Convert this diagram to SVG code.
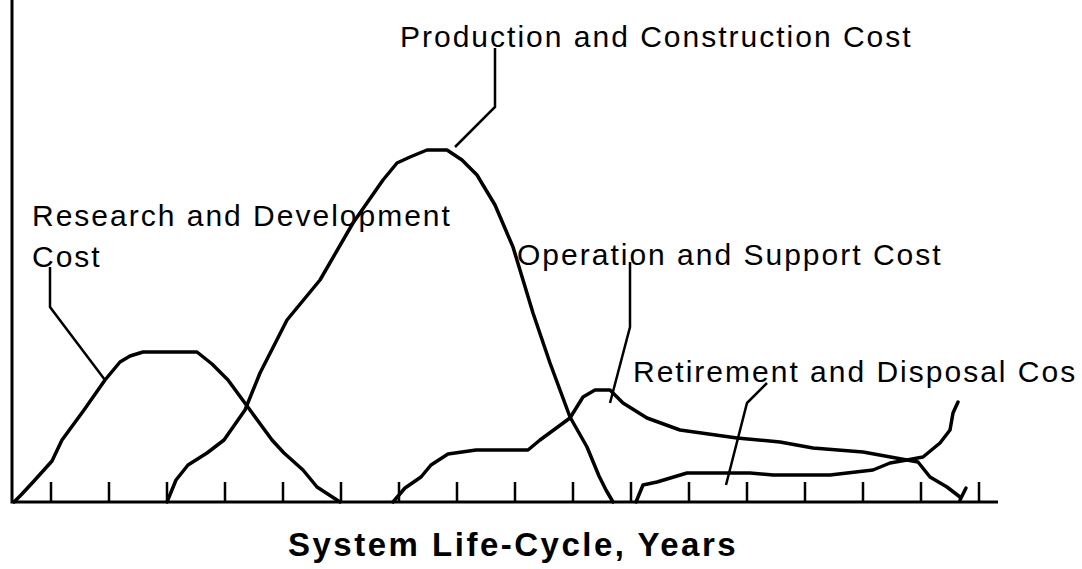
<svg xmlns="http://www.w3.org/2000/svg" width="1082" height="569" viewBox="0 0 1082 569">
<style>
.ax{stroke:#000;stroke-width:3;fill:none}
.tk{stroke:#000;stroke-width:2.5}
.cv{stroke:#000;stroke-width:3.5;fill:none;stroke-linejoin:round;stroke-linecap:round}
.ld{stroke:#000;stroke-width:2.5;fill:none;stroke-linejoin:miter}
.lb{font-family:"Liberation Sans",Arial,sans-serif;font-size:30px;letter-spacing:2px;fill:#000}
.tt{font-family:"Liberation Sans",Arial,sans-serif;font-size:33px;font-weight:bold;letter-spacing:2.5px;fill:#000}
</style>
<rect width="1082" height="569" fill="#fff"/>
<g id="axes">
<path class="ax" d="M12 0 V502 H998"/>
<g class="tk">
<line x1="51" y1="482" x2="51" y2="502"/><line x1="109" y1="482" x2="109" y2="502"/><line x1="167" y1="482" x2="167" y2="502"/><line x1="225" y1="482" x2="225" y2="502"/><line x1="283" y1="482" x2="283" y2="502"/><line x1="341" y1="482" x2="341" y2="502"/><line x1="399" y1="482" x2="399" y2="502"/><line x1="457" y1="482" x2="457" y2="502"/><line x1="515" y1="482" x2="515" y2="502"/><line x1="573" y1="482" x2="573" y2="502"/><line x1="631" y1="482" x2="631" y2="502"/><line x1="689" y1="482" x2="689" y2="502"/><line x1="747" y1="482" x2="747" y2="502"/><line x1="805" y1="482" x2="805" y2="502"/><line x1="863" y1="482" x2="863" y2="502"/><line x1="921" y1="482" x2="921" y2="502"/><line x1="979" y1="482" x2="979" y2="502"/>
</g>
</g>
<g id="curves">
<polyline id="rd-curve" class="cv" points="14,502 21,495 34,481 52,461 62,440 84,410 105,380 120,362 130,356 143,352 197,352 212,364 228,380 250,410 272,440 284,453 303,470 317,487 340,502"/>
<polyline id="pc-curve" class="cv" points="167,502 176,480 188,465 207,453 224,440 245,410 260,373 287,320 320,280 353,223 383,180 397,163 410,157 427,150 447,150 462,160 477,175 495,205 513,247 533,313 550,363 570,417 587,447 599,476 606,490 613,502"/>
<polyline id="os-curve" class="cv" points="393,502 405,488 421,477 431,465 448,454 476,450 528,450 540,440 570,418 583,397 595,390 610,390 623,403 647,418 680,430 737,438 780,442 813,448 863,452 907,460 918,462 930,477 947,487 960,497"/>
<polyline id="os-hook" class="cv" points="960,500 966,488"/>
<polyline id="rt-curve" class="cv" points="636,502 643,485 657,482 687,473 750,473 773,475 830,475 873,470 890,463 907,460 923,457 940,443 950,430 953,413 958,402"/>
</g>
<g id="connectors">
<polyline class="ld" points="50,267 50,307 105,380"/>
<polyline class="ld" points="495,48 495,107 455,147"/>
<polyline class="ld" points="630,262 630,327 610,403"/>
<polyline class="ld" points="767,383 747,403 726,485"/>
</g>
<g id="label-rd"><text class="lb" x="32" y="226">Research and Development</text><text class="lb" x="32" y="267">Cost</text></g>
<g id="label-pc"><text class="lb" x="400" y="47">Production and Construction Cost</text></g>
<g id="label-os"><text class="lb" x="517" y="265">Operation and Support Cost</text></g>
<g id="label-rt"><text class="lb" x="633" y="382">Retirement and Disposal Cos</text></g>
<g id="title"><text class="tt" x="288" y="556">System Life-Cycle, Years</text></g>
</svg>
